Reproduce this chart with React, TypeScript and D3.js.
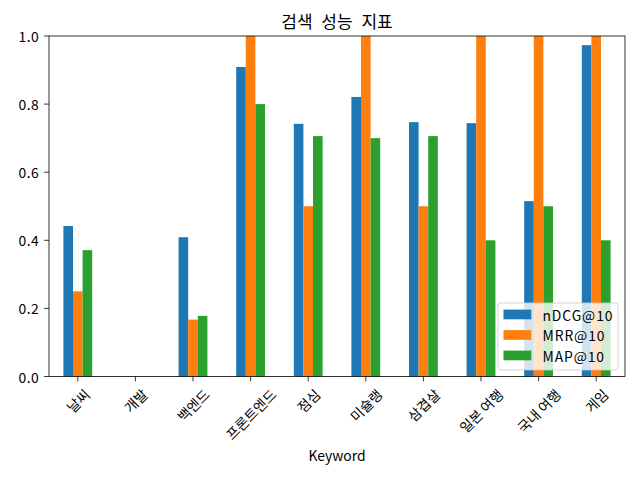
import React, { useEffect, useRef } from "react";
import * as d3 from "d3";

const categories = ["날씨", "개발", "백엔드", "프론트엔드", "점심", "미슐랭", "삼겹살", "일본 여행", "국내 여행", "게임"];
const seriesNames = ["nDCG@10", "MRR@10", "MAP@10"];
const ndcg = [0.442, 0, 0.409, 0.909, 0.742, 0.821, 0.747, 0.744, 0.515, 0.973];
const mrr = [0.25, 0, 0.167, 1.0, 0.5, 1.0, 0.5, 1.0, 1.0, 1.0];
const mapv = [0.371, 0, 0.178, 0.8, 0.706, 0.7, 0.706, 0.4, 0.5, 0.4];
const yTicks = [0, 0.2, 0.4, 0.6, 0.8, 1.0];
const colors = ["#1f77b4", "#ff7f0e", "#2ca02c"];

const W = 640, H = 480;
const L = 49, R = 625, T = 36, B = 376.5;
const FONT = "'Noto Sans CJK KR', 'Noto Sans', sans-serif";
const FS = 13.9;

export default function App() {
  const ref = useRef<SVGSVGElement>(null);
  useEffect(() => {
    const svg = d3.select(ref.current);
    svg.selectAll("*").remove();
    const series = [ndcg, mrr, mapv];
    const x = d3.scaleBand<string>().domain(categories).range([L, R]).paddingInner(0).paddingOuter(0);
    const y = d3.scaleLinear().domain([0, 1]).range([B, T]);
    const bw = x.bandwidth();
    const barW = (bw * 0.5) / 3;

    svg.append("rect").attr("x", 0).attr("y", 0).attr("width", W).attr("height", H).attr("fill", "#fff");

    // bars
    series.forEach((vals, si) => {
      svg.append("g").selectAll("rect").data(vals).join("rect")
        .attr("x", (_, i) => x(categories[i])! + bw / 2 - bw * 0.25 + si * barW)
        .attr("width", barW)
        .attr("y", (d) => y(d))
        .attr("height", (d) => B - y(d))
        .attr("fill", colors[si]);
    });

    // frame
    svg.append("rect").attr("x", L).attr("y", T).attr("width", R - L).attr("height", B - T)
      .attr("fill", "none").attr("stroke", "#000").attr("stroke-width", 0.8);

    // y ticks
    const gy = svg.append("g");
    yTicks.forEach((t) => {
      gy.append("line").attr("x1", L - 4.86).attr("x2", L).attr("y1", y(t)).attr("y2", y(t))
        .attr("stroke", "#000").attr("stroke-width", 0.8);
      gy.append("text").attr("x", L - 4.86 - 4.86).attr("y", y(t)).attr("text-anchor", "end")
        .attr("dominant-baseline", "central").attr("font-family", FONT).attr("font-size", FS)
        .attr("letter-spacing", "0.5px")
        .attr("fill", "#000").text(t.toFixed(1));
    });

    // x ticks
    const gx = svg.append("g");
    categories.forEach((c) => {
      const cx = x(c)! + bw / 2;
      gx.append("line").attr("x1", cx).attr("x2", cx).attr("y1", B).attr("y2", B + 4.86)
        .attr("stroke", "#000").attr("stroke-width", 0.8);
      const txt = gx.append("text").attr("text-anchor", "middle").attr("dominant-baseline", "central")
        .attr("font-family", FONT).attr("font-size", FS).attr("fill", "#000").text(c);
      const w = (txt.node() as SVGTextElement).getComputedTextLength();
      const h = FS * 1.05;
      const half = (w + h) / (2 * Math.SQRT2);
      const cy = B + 4.86 + 4.86 + half;
      txt.attr("transform", `translate(${cx},${cy}) rotate(-45)`);
    });

    // title
    svg.append("text").attr("x", (L + R) / 2).attr("y", 27.5).attr("text-anchor", "middle")
      .attr("font-family", FONT).attr("font-size", 17).attr("word-spacing", "5px")
      .attr("fill", "#000").text("검색 성능 지표");

    // x label
    svg.append("text").attr("x", (L + R) / 2).attr("y", 460.5).attr("text-anchor", "middle")
      .attr("font-family", FONT).attr("font-size", FS).attr("fill", "#000").text("Keyword");

    // legend
    const lx = 498, ly = 303, lw = 120, lh = 67;
    const lg = svg.append("g");
    lg.append("rect").attr("x", lx).attr("y", ly).attr("width", lw).attr("height", lh)
      .attr("rx", 3).attr("fill", "#fff").attr("fill-opacity", 0.8)
      .attr("stroke", "#cccccc").attr("stroke-width", 0.8);
    seriesNames.forEach((n, i) => {
      const cy = 314.5 + i * 20.5;
      lg.append("rect").attr("x", 503.5).attr("y", cy - 4.9).attr("width", 27.8).attr("height", 9.7)
        .attr("fill", colors[i]);
      lg.append("text").attr("x", 542.5).attr("y", cy).attr("dominant-baseline", "central")
        .attr("font-family", FONT).attr("font-size", FS).attr("letter-spacing", "0.9px")
        .attr("fill", "#000").text(n);
    });
  }, []);
  return (
    <svg ref={ref} width={W} height={H} style={{ position: "absolute", left: 0, top: 0, display: "block" }} />
  );
}
